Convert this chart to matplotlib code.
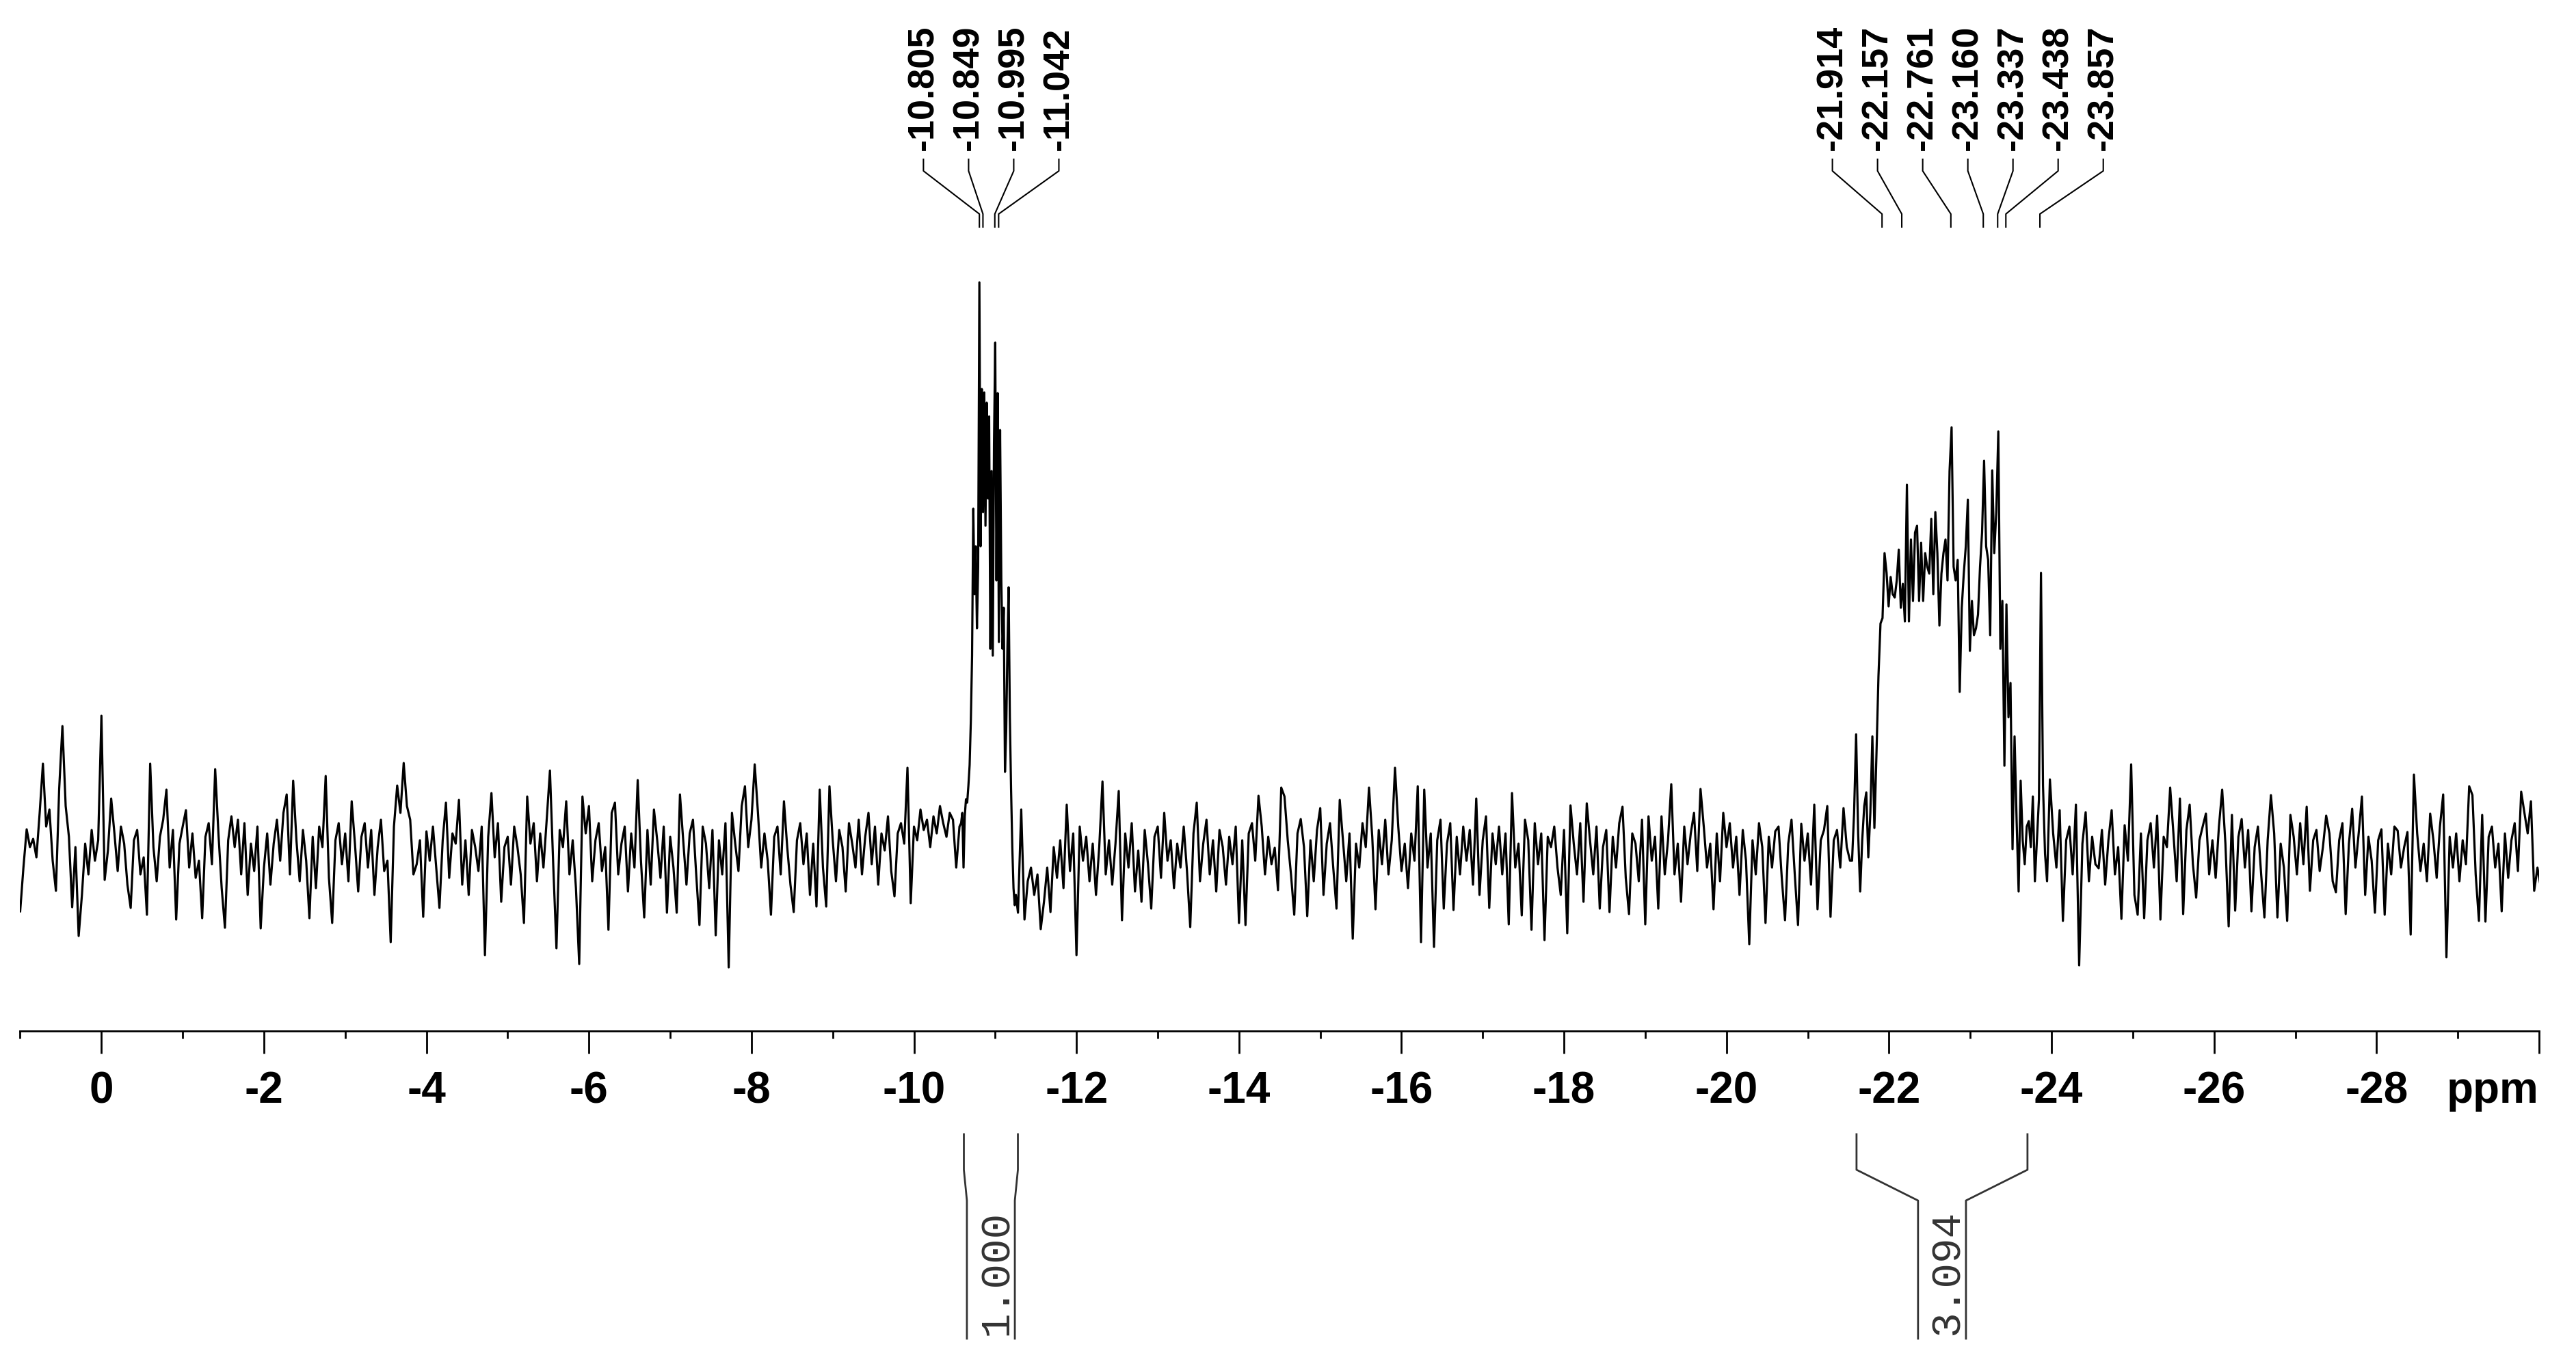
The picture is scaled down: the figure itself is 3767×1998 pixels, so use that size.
import numpy as np
import matplotlib
matplotlib.use('Agg')
import matplotlib.pyplot as plt

plt.rcParams['font.family'] = ['Liberation Sans', 'DejaVu Sans']
plt.rcParams['axes.unicode_minus'] = False

#%%
# spectrum in pieces (intensity = px above baseline)
seg_a_ppm = (1.00, -10.56)  # left baseline, step 0.04
seg_a = [
    -84, -20, 36, 10, 22, -5, 60, 132, 40, 65, -10, -54, 95, 187, 70, 25, -78, 10, -120, -60, 15, -30, 35, -10, 20,
    202, -38, 5, 81, 30, -25, 40, 15, -45, -79, 20, 35, -30, -5, -89, 132, 10, -40, 25, 50, 94, -20, 35, -96, 15,
    40, 64, -20, 30, -35, -10, -94, 25, 45, -15, 124, 30, -50, -108, 20, 55, 10, 50, -30, 45, -60, 15, -25, 40, -109,
    -20, 30, -45, 15, 50, -10, 60, 87, -30, 107, 20, -40, 35, -10, -94, 25, -50, 40, 10, 114, -35, -101, 20, 45, -15,
    30, -40, 77, 15, -55, 25, 45, -20, 35, -60, 10, 50, -25, -10, -129, 40, 100, 60, 133, 70, 50, -30, -15, 20, -92,
    33, -10, 40, -20, -79, 20, 75, -35, 30, 15, 79, -45, 20, -60, 35, 10, -25, 40, -148, 25, 89, -5, 45, -70, 10,
    25, -45, 40, 10, -30, -101, 84, 15, 45, -40, 30, -20, 50, 122, -15, -138, 35, 10, 77, -30, 20, -50, -161, 84, 30,
    70, -40, 20, 45, -25, 10, -111, 60, 75, -30, 15, 40, -55, 30, -20, 108, -10, -93, 35, -45, 65, 20, -35, 40, -86,
    25, -20, -86, 87, 20, -45, 30, 50, -30, -104, 40, 15, -50, 35, -119, 20, -30, 45, -166, 60, 15, -25, 70, 99, 10,
    50, 131, 60, -20, 30, -10, -89, 25, 40, -30, 77, 10, -45, -85, 20, 45, -15, 30, -60, 15, -77, 94, -20, -77, 99,
    20, -40, 35, 10, -55, 45, 15, -20, 50, -30, 25, 60, -15, 40, -45, 30, 5, 55, -25, -62, 30, 45, 15, 126, -72,
    40, 20, 65, 35, 50, 10, 55, 30, 70, 45, 25, 60, 50, -20, 40,
]
seg_b_ppm = (-10.58, -11.255)  # first signal, step 0.015
seg_b = [
    45, 60, -20, 55, 80, 75, 100, 130, 195, 290, 505, 380, 450, 330, 420, 836,
    450, 680, 500, 675, 480, 660, 520, 640, 300, 560, 290, 600, 748, 400, 674,
    310, 620, 400, 300, 360, 120, 180, 300, 390, 200, 95, 10, -50, -75, -60,
]
seg_c_ppm = (-11.28, -21.52)  # middle baseline, step 0.04
seg_c = [
    -86, 65, -96, -40, -20, -60, -30, -110, -70, -20, -85, 10, -35, 20, -50, 72, -25, 30, -148, 40, -10, 25, -40, 15, -60,
    10, 106, -30, 20, -45, 15, 92, -97, 30, -20, 45, -55, 5, -70, 35, -15, -80, 25, 40, -35, 60, -10, 20, -50, 15,
    -20, 40, -25, -107, 30, 75, -40, 15, 50, -30, 20, -55, 35, 10, -45, 25, -15, 40, -101, 20, -104, 30, 45, -10, 85,
    40, -30, 25, -15, 9, -53, 97, 84, 20, -30, -89, 30, 51, 10, -91, 20, -40, 35, 67, -60, 15, 45, -20, -80, 79,
    20, -40, 30, -124, 15, -20, 45, 10, 97, 25, -81, 35, -15, 50, -30, 20, 126, 40, -25, 15, -50, 30, -10, 99, -129,
    94, -20, 30, -136, 20, 50, -80, 15, 45, -82, 25, -30, 40, -10, 35, -45, 81, -60, 20, 55, -79, 30, -15, 40, -30,
    30, -103, 89, -20, 15, -90, 50, 20, -111, 45, -15, 30, -126, 25, 10, 40, -20, -60, 35, -116, 71, 15, -30, 45, -70,
    74, 20, -30, 40, -80, 10, 35, -85, 25, -20, 45, 69, -35, -88, 30, 15, -40, 50, -103, 55, -10, 25, -80, 55, -30,
    20, 102, -30, 15, -70, 40, -15, 30, 60, -25, 95, 40, -20, 15, -81, 30, -40, 60, 10, 45, -20, 25, -60, 35, -10,
    -132, 20, -30, 45, 10, -101, 25, -20, 33, 40, -35, -97, 15, 50, -30, -104, 44, -10, 30, -45, 72, -81, 20, 35, 70,
    -92, 20, 35, -20, 67, 10, -10,
]
seg_d_ppm = (-21.545, -23.945)  # second signal, step 0.025
seg_d = [
    -10, 60, 175, 30, -55, 20, 70, 90, -5, 60, 172, 38, 144, 260, 337, 345,
    440, 411, 362, 405, 380, 375, 400, 445, 360, 395, 340, 540, 340, 460, 370,
    470, 480, 370, 455, 370, 440, 420, 410, 490, 380, 500, 440, 334, 410, 440,
    460, 400, 560, 624, 420, 400, 430, 237, 360, 410, 450, 518, 297, 370, 320,
    330, 350, 420, 470, 575, 450, 430, 320, 561, 440, 500, 618, 300, 370, 129,
    365, 200, 250, 7, 172, 50, -55, 107, 20, -15, 40, 48, 10, 84, -40, 20,
    80, 411, 100, 0, -40,
]
seg_e_ppm = (-23.98, -30.02)  # right baseline, step 0.04
seg_e = [
    109, 30, -20, 64, -98, 20, 40, -30, 72, -163, 15, 61, -40, 25, -15, -21, 35, -45, 20, 64, -30, 10, -95, 42, -10,
    131, -60, -89, 30, -94, 20, 45, -20, 56, -96, 25, 10, 97, 30, -40, 81, -88, 35, 72, -15, -64, 20, 40, 59, -30,
    20, -35, 40, 94, 15, -106, 57, -83, 25, 51, -20, 35, -84, 10, 40, -30, -93, 20, 86, 30, -93, 15, -20, -98, 57,
    25, -30, 45, -15, 69, -54, 20, 35, -25, 10, 56, 30, -40, -56, 20, 45, -88, 15, 66, -20, 30, 84, -60, 25, -10,
    -86, 20, 36, -89, 15, -30, 40, 34, -20, 10, 32, -118, 116, 30, -25, 15, -40, 59, 20, -35, 40, 87, -151, 25, -20,
    30, -40, 20, -15, 99, 86, -30, -98, 57, -99, 25, 40, -20, 15, -84, 30, -35, 20, 45, -25, 91, 60, 30, 77, -54,
    -20, -48,
]

# peak picking and integrals
peaks_1 = [-10.805, -10.849, -10.995, -11.042]
peaks_2 = [-21.914, -22.157, -22.761, -23.160, -23.337, -23.438, -23.857]
label_centers = [-10.95, -22.97]
int_ranges = [(-10.614, -11.279), (-21.600, -23.704)]
int_values = ['1.000', '3.094']

major_ticks = list(range(0, -31, -2))
tick_labels = [str(t) for t in major_ticks[:-1]] + ['']
minor_ticks = list(range(1, -30, -2))

#%%
xs, ys = [], []
for (p0, p1), vals in [(seg_a_ppm, seg_a), (seg_b_ppm, seg_b), (seg_c_ppm, seg_c),
                       (seg_d_ppm, seg_d), (seg_e_ppm, seg_e)]:
    xs.append(np.linspace(p0, p1, len(vals)))
    ys.append(np.array(vals, dtype=float))
x = np.concatenate(xs)
y = np.concatenate(ys)

fig = plt.figure(figsize=(37.67, 19.98), dpi=100)
ax = fig.add_axes([0.00783, 0.24525, 0.97783, 0.75475])
ax.plot(x, y, color='black', lw=2.3)
ax.set_xlim(1.0, -30.0)
ax.set_ylim(-259, 1249)

for s in ['top', 'right', 'left']:
    ax.spines[s].set_visible(False)
ax.spines['bottom'].set_linewidth(2.0)
ax.yaxis.set_visible(False)

ax.set_xticks(major_ticks)
ax.set_xticklabels(tick_labels)
ax.set_xticks(minor_ticks, minor=True)
ax.tick_params(axis='x', which='major', length=24, width=2.0, pad=18, labelsize=46)
ax.tick_params(axis='x', which='minor', length=8, width=2.0)
for lbl in ax.get_xticklabels():
    lbl.set_fontweight('bold')

ax.text(-30.0, -364, 'ppm', ha='right', va='baseline', fontsize=46,
        fontweight='bold', clip_on=False)

# peak labels with leader lines
step = 0.5556
for peaks, cen in zip([peaks_1, peaks_2], label_centers):
    n = len(peaks)
    for i, p in enumerate(peaks):
        xl = cen + ((n - 1) / 2 - i) * step
        ax.plot([xl, xl, p, p], [1016, 999, 936, 917], color='black', lw=1.5,
                clip_on=False)
        ax.text(xl, 1029, f'{p:.3f}', rotation=90, ha='center', va='bottom',
                fontsize=39, fontweight='bold', clip_on=False)

# integrals under the axis
half = 0.295
for (a, b), val in zip(int_ranges, int_values):
    c = (a + b) / 2
    ax.plot([a, a, c + half, c + half], [-410, -462, -507, -709], color='#333333',
            lw=2.0, clip_on=False)
    ax.plot([b, b, c - half, c - half], [-410, -462, -507, -709], color='#333333',
            lw=2.0, clip_on=False)
    ax.text(c - 0.07, -704, val, rotation=90, ha='center', va='bottom',
            family=['Liberation Mono', 'DejaVu Sans Mono'], fontsize=44,
            color='#333333', clip_on=False)

fig.savefig('out.png', dpi=100, facecolor='white')
